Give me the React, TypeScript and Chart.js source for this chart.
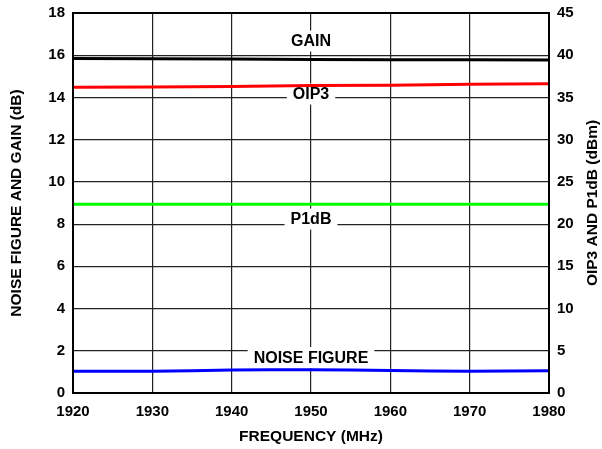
import React, { useEffect, useRef } from "react";
import { Chart, registerables } from "chart.js";
Chart.register(...registerables);

const freqs = [1920, 1930, 1940, 1950, 1960, 1970, 1980];
const gain = [15.84, 15.83, 15.82, 15.8, 15.79, 15.78, 15.77];
const oip3 = [36.2, 36.25, 36.3, 36.4, 36.45, 36.55, 36.62];
const p1db = [22.35, 22.35, 22.35, 22.35, 22.35, 22.35, 22.35];
const noiseFigure = [1.03, 1.03, 1.09, 1.1, 1.07, 1.03, 1.05];

const leftTitle = "NOISE FIGURE AND GAIN (dB)";
const rightTitle = "OIP3 AND P1dB (dBm)";
const xTitle = "FREQUENCY (MHz)";

const labels = [
  { text: "GAIN", x: 1950, y: 16.67, axis: "yL" },
  { text: "OIP3", x: 1950, y: 35.4, axis: "yR" },
  { text: "P1dB", x: 1950, y: 20.6, axis: "yR" },
  { text: "NOISE FIGURE", x: 1950, y: 1.68, axis: "yL" },
];

const FONT = "'Liberation Sans', Arial, sans-serif";

export default function App() {
  const ref = useRef<HTMLCanvasElement>(null);
  useEffect(() => {
    document.body.style.margin = "0";
    const pts = (arr: number[]) => freqs.map((f, i) => ({ x: f, y: arr[i] }));
    const labelPlugin = {
      id: "labels",
      beforeDatasetsDraw(chart: any) {
        const ctx = chart.ctx;
        ctx.save();
        ctx.font = `bold 16px ${FONT}`;
        ctx.textAlign = "center";
        ctx.textBaseline = "middle";
        for (const l of labels) {
          const px = chart.scales.x.getPixelForValue(l.x);
          const py = chart.scales[l.axis].getPixelForValue(l.y);
          const w = ctx.measureText(l.text).width + 12;
          ctx.fillStyle = "#fff";
          ctx.fillRect(px - w / 2, py - 10.5, w, 21);
          ctx.fillStyle = "#000";
          ctx.fillText(l.text, px, py + 1);
        }
        ctx.restore();
      },
      afterDraw(chart: any) {
        const ctx = chart.ctx;
        const a = chart.chartArea;
        ctx.save();
        ctx.font = `bold 15.5px ${FONT}`;
        ctx.fillStyle = "#000";
        ctx.textAlign = "center";
        ctx.textBaseline = "middle";
        ctx.fillText(xTitle, (a.left + a.right) / 2, 437);
        ctx.save();
        ctx.translate(17, (a.top + a.bottom) / 2);
        ctx.rotate(-Math.PI / 2);
        ctx.fillText(leftTitle, 0, 0);
        ctx.restore();
        ctx.save();
        ctx.translate(593, (a.top + a.bottom) / 2);
        ctx.rotate(-Math.PI / 2);
        ctx.fillText(rightTitle, 0, 0);
        ctx.restore();
        ctx.strokeStyle = "#000";
        ctx.lineWidth = 2;
        ctx.strokeRect(a.left, a.top, a.right - a.left, a.bottom - a.top);
        ctx.restore();
      },
    };
    const tickFont = { family: FONT, size: 15, weight: "bold" as const };
    const noPad = (s: any) => {
      s.paddingTop = 0;
      s.paddingBottom = 0;
      s.paddingLeft = 0;
      s.paddingRight = 0;
    };
    const chart = new Chart(ref.current!, {
      type: "line",
      data: {
        datasets: [
          { data: pts(gain), yAxisID: "yL", borderColor: "#000", borderWidth: 3, pointRadius: 0 },
          { data: pts(oip3), yAxisID: "yR", borderColor: "#ff0000", borderWidth: 3, pointRadius: 0 },
          { data: pts(p1db), yAxisID: "yR", borderColor: "#00ff00", borderWidth: 3, pointRadius: 0 },
          { data: pts(noiseFigure), yAxisID: "yL", borderColor: "#0000ff", borderWidth: 3, pointRadius: 0, tension: 0.3 },
        ],
      },
      options: {
        animation: false,
        responsive: false,
        layout: { padding: { top: 13, left: 0, right: 0, bottom: 0 } },
        plugins: { legend: { display: false }, tooltip: { enabled: false } },
        scales: {
          x: {
            type: "linear",
            min: 1920,
            max: 1980,
            ticks: { stepSize: 10, color: "#000", font: tickFont, padding: 10, callback: (v: any) => String(v) },
            grid: { color: "#222", lineWidth: 1.2, drawTicks: false },
            border: { display: false },
            afterFit: (s: any) => { s.height = 56; noPad(s); },
          },
          yL: {
            position: "left",
            min: 0,
            max: 18,
            ticks: { stepSize: 2, color: "#000", font: tickFont, padding: 8 },
            grid: { color: "#222", lineWidth: 1.2, drawTicks: false },
            border: { display: false },
            afterFit: (s: any) => { s.width = 73; noPad(s); },
          },
          yR: {
            position: "right",
            min: 0,
            max: 45,
            ticks: { stepSize: 5, color: "#000", font: tickFont, padding: 8 },
            grid: { display: false, drawTicks: false },
            border: { display: false },
            afterFit: (s: any) => { s.width = 53; noPad(s); },
          },
        },
      },
      plugins: [labelPlugin],
    });
    return () => chart.destroy();
  }, []);
  return <canvas ref={ref} width={602} height={449} style={{ display: "block" }} />;
}
